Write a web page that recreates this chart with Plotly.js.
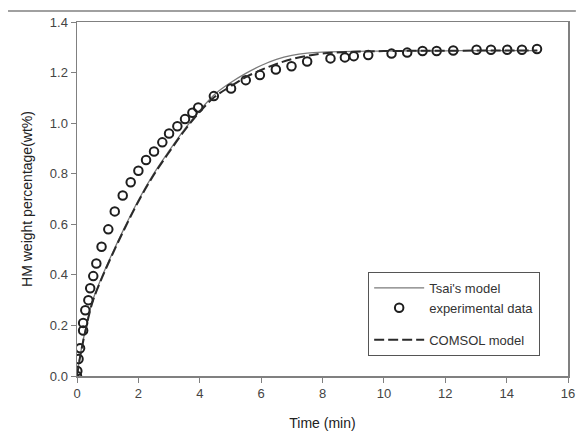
<!DOCTYPE html>
<html>
<head>
<meta charset="utf-8">
<script src="https://cdn.plot.ly/plotly-3.0.1.min.js"></script>
<style>html,body{margin:0;padding:0;background:#fff;}#chart{width:576px;height:436px;}</style>
</head>
<body>
<div id="chart"></div>
<script>
// Experimental data
const expTime = [0, 0.01, 0.05, 0.1, 0.2, 0.2, 0.27, 0.37, 0.43, 0.53, 0.63, 0.8, 1.02, 1.23, 1.49, 1.75, 2.0, 2.25, 2.51, 2.78, 3.0, 3.27, 3.52, 3.76, 3.95, 4.46, 5.02, 5.5, 5.96, 6.48, 6.99, 7.5, 8.26, 8.73, 9.02, 9.49, 10.25, 10.76, 11.26, 11.72, 12.26, 13.02, 13.49, 14.02, 14.5, 14.99];
const expValue = [0, 0.02, 0.067, 0.11, 0.18, 0.21, 0.26, 0.30, 0.347, 0.395, 0.445, 0.511, 0.58, 0.651, 0.714, 0.766, 0.812, 0.854, 0.888, 0.924, 0.959, 0.988, 1.016, 1.041, 1.062, 1.107, 1.137, 1.17, 1.19, 1.212, 1.225, 1.244, 1.256, 1.26, 1.265, 1.269, 1.275, 1.279, 1.285, 1.285, 1.287, 1.29, 1.29, 1.29, 1.29, 1.293];

// Tsai's model
const tsaiTime = [0, 0.1, 0.25, 0.5, 0.75, 1.0, 1.5, 2.0, 2.5, 3.0, 3.5, 4.0, 4.5, 5.0, 5.5, 6.0, 6.5, 7.0, 7.5, 8, 9, 10, 11, 12, 13, 14, 15];
const tsaiValue = [0, 0.08, 0.17, 0.295, 0.375, 0.445, 0.575, 0.695, 0.80, 0.89, 0.975, 1.05, 1.115, 1.16, 1.197, 1.228, 1.252, 1.268, 1.277, 1.281, 1.284, 1.285, 1.286, 1.286, 1.287, 1.287, 1.287];

// COMSOL model
const comsolTime = [0, 0.1, 0.25, 0.5, 0.75, 1.0, 1.5, 2.0, 2.5, 3.0, 3.5, 4.0, 4.5, 5.0, 5.5, 6.0, 6.5, 7.0, 7.5, 8, 9, 10, 11, 12, 13, 14, 15];
const comsolValue = [0, 0.075, 0.165, 0.29, 0.37, 0.44, 0.57, 0.69, 0.795, 0.885, 0.97, 1.045, 1.105, 1.145, 1.182, 1.21, 1.234, 1.253, 1.266, 1.275, 1.282, 1.285, 1.286, 1.286, 1.287, 1.287, 1.287];

const xTicks = [0, 2, 4, 6, 8, 10, 12, 14, 16];
const yTicks = [0.0, 0.2, 0.4, 0.6, 0.8, 1.0, 1.2, 1.4];

const font = "Arial, 'Liberation Sans', sans-serif";
const axisColor = '#808080';

const traces = [
  {
    x: tsaiTime, y: tsaiValue, type: 'scatter', mode: 'lines',
    name: "Tsai's model", legendgroup: 'a',
    line: {color: '#7a7a7a', width: 1.3, shape: 'spline'}
  },
  {
    x: expTime, y: expValue, type: 'scatter', mode: 'markers',
    name: 'experimental data', legendgroup: 'a',
    marker: {symbol: 'circle-open', size: 8.5, color: '#1e1e1e', line: {width: 2, color: '#1e1e1e'}}
  },
  {
    x: comsolTime, y: comsolValue, type: 'scatter', mode: 'lines',
    name: 'COMSOL model', legendgroup: 'b',
    line: {color: '#2a2a2a', width: 2, dash: '10px,4px', shape: 'spline'}
  }
];

const layout = {
  width: 576, height: 436,
  margin: {l: 77, r: 8, t: 22, b: 60},
  paper_bgcolor: '#fff', plot_bgcolor: '#fff',
  font: {family: font, size: 12, color: '#333'},
  showlegend: true,
  legend: {
    x: 0.593, y: 0.294, xanchor: 'left', yanchor: 'top',
    bgcolor: '#fff', bordercolor: '#555', borderwidth: 1,
    font: {family: font, size: 13, color: '#333'},
    tracegroupgap: 12, traceorder: 'grouped',
    itemwidth: 50, entrywidth: 134
  },
  xaxis: {
    range: [0, 16], tickvals: xTicks, ticktext: xTicks.map(String),
    showgrid: false, zeroline: false,
    showline: true, linecolor: axisColor, linewidth: 1.5, mirror: true,
    ticks: 'outside', ticklen: 5, tickcolor: axisColor, tickwidth: 1,
    tickfont: {family: font, size: 13, color: '#444'},
    title: {text: 'Time (min)', font: {family: font, size: 14, color: '#222'}, standoff: 18}
  },
  yaxis: {
    range: [0, 1.4], tickvals: yTicks, ticktext: yTicks.map(v => v.toFixed(1)),
    showgrid: false, zeroline: false,
    showline: true, linecolor: axisColor, linewidth: 1.5, mirror: true,
    ticks: 'outside', ticklen: 5, tickcolor: axisColor, tickwidth: 1,
    tickfont: {family: font, size: 13, color: '#444'},
    title: {text: 'HM weight percentage(wt%)', font: {family: font, size: 14, color: '#222'}, standoff: 14}
  },
  shapes: [
    {type: 'line', xref: 'paper', yref: 'paper', x0: -0.1405, x1: 1.016, y0: 1.031, y1: 1.031,
     line: {color: '#808080', width: 1.5}}
  ]
};

Plotly.newPlot('chart', traces, layout, {displayModeBar: false, staticPlot: true});
</script>
</body>
</html>
